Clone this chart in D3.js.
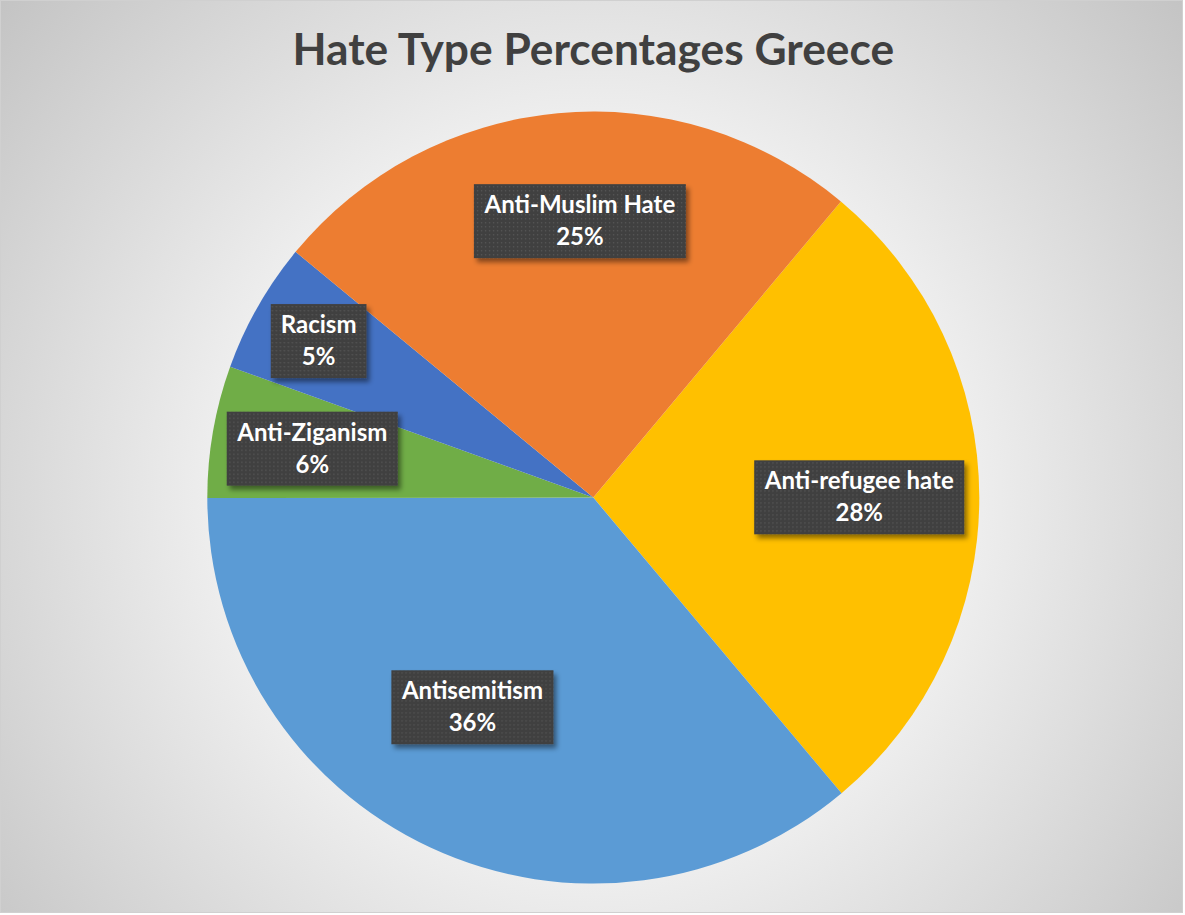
<!DOCTYPE html>
<html>
<head>
<meta charset="utf-8">
<script src="https://cdn.jsdelivr.net/npm/d3@7"></script>
<style>
  html, body { margin: 0; padding: 0; background: #ffffff; }
  svg { display: block; }
</style>
</head>
<body>
<svg id="chart" width="1185" height="915"></svg>
<script>
// ---- data ----
const categories = ["Anti-refugee hate", "Antisemitism", "Anti-Ziganism", "Racism", "Anti-Muslim Hate"];
const values = [27.8, 36.1, 5.52, 5.48, 25.1];
const colors = ["#FFC000", "#5B9BD5", "#70AD47", "#4472C4", "#ED7D31"];
const title = "Hate Type Percentages Greece";

// ---- layout ----
const W = 1185, H = 915;
const cx = 593.3, cy = 497.6, R = 386;
const firstSliceAngle = 39.9; // degrees, clockwise from 12 o'clock
// label placement: fraction of radius and angle nudge (deg) from slice middle
const labelPlacement = {
  "Anti-refugee hate": { k: 0.689, da: 0 },
  "Antisemitism": { k: 0.627, da: 5 },
  "Anti-Ziganism": { k: 0.739, da: 0 },
  "Racism": { k: 0.819, da: 0 },
  "Anti-Muslim Hate": { k: 0.717, da: 2.5 }
};

const svg = d3.select("#chart");
const defs = svg.append("defs");

const bg = defs.append("radialGradient")
  .attr("id", "bgGrad")
  .attr("gradientUnits", "userSpaceOnUse")
  .attr("cx", cx).attr("cy", cy).attr("r", 780);
bg.append("stop").attr("offset", "0").attr("stop-color", "#ffffff");
bg.append("stop").attr("offset", "0.45").attr("stop-color", "#f1f1f1");
bg.append("stop").attr("offset", "1").attr("stop-color", "#c3c3c3");

const pat = defs.append("pattern")
  .attr("id", "dots")
  .attr("patternUnits", "userSpaceOnUse")
  .attr("width", 4).attr("height", 4);
pat.append("rect").attr("width", 4).attr("height", 4).attr("fill", "#404040");
pat.append("rect").attr("x", 1).attr("y", 1).attr("width", 1.3).attr("height", 1.3).attr("fill", "#585858");

const shadow = defs.append("filter").attr("id", "shadow")
  .attr("x", "-20%").attr("y", "-20%").attr("width", "140%").attr("height", "160%");
shadow.append("feDropShadow")
  .attr("dx", 3).attr("dy", 4).attr("stdDeviation", 2.5)
  .attr("flood-color", "#000").attr("flood-opacity", 0.45);

// background
svg.append("rect")
  .attr("x", 0.5).attr("y", 0.5)
  .attr("width", W - 3).attr("height", H - 3)
  .attr("fill", "url(#bgGrad)")
  .attr("stroke", "#d0d0d0").attr("stroke-width", 1);

// title
svg.append("text")
  .attr("x", cx).attr("y", 65)
  .attr("text-anchor", "middle")
  .attr("font-family", "Lato, 'Open Sans', sans-serif")
  .attr("font-weight", "bold")
  .attr("font-size", 44.3)
  .attr("fill", "#404040")
  .text(title);

// pie
const data = categories.map((c, i) => ({ cat: c, value: values[i], color: colors[i] }));
const total = d3.sum(values);
const a0 = firstSliceAngle * Math.PI / 180;
const pie = d3.pie().sort(null).value(d => d.value)
  .startAngle(a0).endAngle(a0 + 2 * Math.PI);
const arcs = pie(data);
const arc = d3.arc().innerRadius(0).outerRadius(R);

const g = svg.append("g").attr("transform", `translate(${cx},${cy})`);
g.selectAll("path.slice")
  .data(arcs)
  .join("path")
  .attr("class", "slice")
  .attr("d", arc)
  .attr("fill", d => d.data.color);

// labels
const pct = d3.format(".0%");
const lg = g.selectAll("g.label")
  .data(arcs)
  .join("g")
  .attr("class", "label")
  .attr("transform", d => {
    const p = labelPlacement[d.data.cat];
    const mid = (d.startAngle + d.endAngle) / 2 + p.da * Math.PI / 180;
    const r = p.k * R;
    return `translate(${r * Math.sin(mid)},${-r * Math.cos(mid)})`;
  });

lg.each(function(d) {
  const sel = d3.select(this);
  const box = sel.append("rect").attr("fill", "url(#dots)").attr("filter", "url(#shadow)");
  const t = sel.append("text")
    .attr("text-anchor", "middle")
    .attr("font-family", "Lato, 'Open Sans', sans-serif")
    .attr("font-weight", "bold")
    .attr("font-size", 24)
    .attr("fill", "#ffffff");
  t.append("tspan").attr("x", 0).attr("y", -8).text(d.data.cat);
  t.append("tspan").attr("x", 0).attr("y", 24).text(pct(d.data.value / total));
  const bb = t.node().getBBox();
  const w = bb.width + 20, h = 74;
  box.attr("x", -w / 2).attr("y", -h / 2).attr("width", w).attr("height", h);
});
</script>
</body>
</html>
